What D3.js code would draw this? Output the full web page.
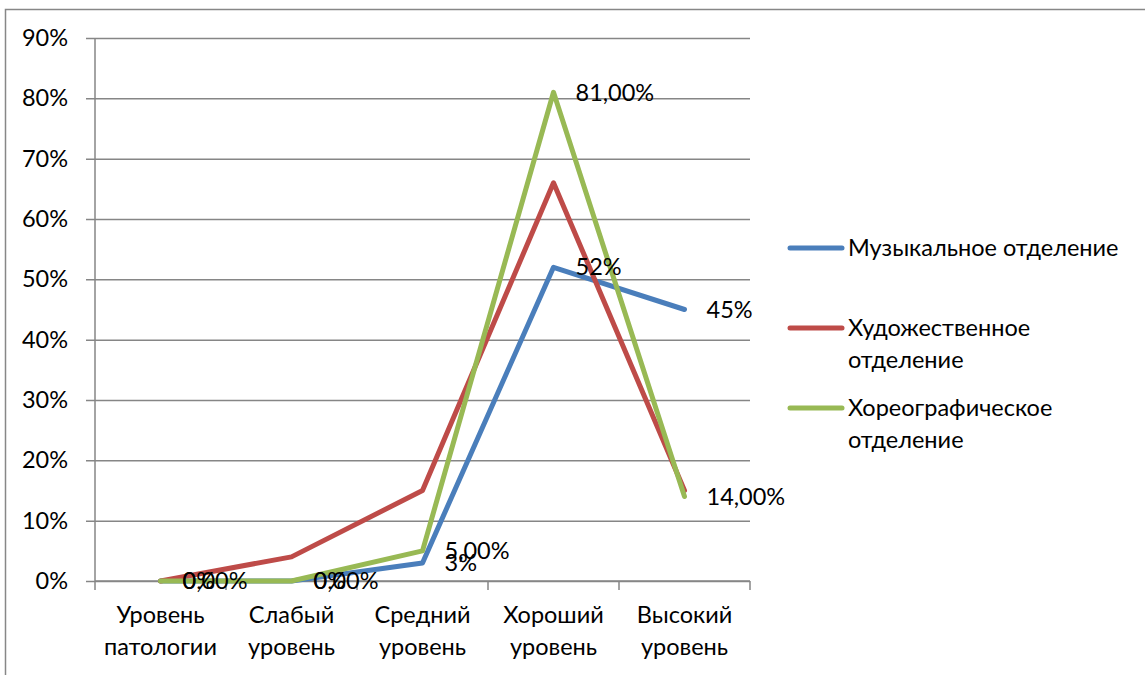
<!DOCTYPE html>
<html>
<head>
<meta charset="utf-8">
<script src="https://cdn.jsdelivr.net/npm/d3@7"></script>
<style>
  body { margin: 0; background: #fff; }
  svg text { font-family: Lato, "Open Sans", sans-serif; fill: #000; }
</style>
</head>
<body>
<svg id="chart" width="1145" height="675"></svg>
<script>
/* Line chart: levels by department */

const categories = [
    ['Уровень', 'патологии'],
    ['Слабый', 'уровень'],
    ['Средний', 'уровень'],
    ['Хороший', 'уровень'],
    ['Высокий', 'уровень']
];
const yTicks = [0, 10, 20, 30, 40, 50, 60, 70, 80, 90];

const musicValues = [0, 0, 3, 52, 45];
const artValues = [0, 4, 15, 66, 15];
const danceValues = [0, 0, 5, 81, 14];

const musicLabels = ['0%', '0%', '3%', '52%', '45%'];
const danceLabels = ['0,00%', '0,00%', '5,00%', '81,00%', '14,00%'];

const seriesNames = [
    ['Музыкальное отделение'],
    ['Художественное', 'отделение'],
    ['Хореографическое', 'отделение']
];

const COLORS = ['#4a7ebb', '#be4b48', '#98b954'];
const FONT_SIZE = 23.5;

const series = [
    { values: musicValues, labels: musicLabels },
    { values: artValues, labels: null },
    { values: danceValues, labels: danceLabels }
];

const svg = d3.select('#chart');

// outer frame (only top and left edges are inside the picture)
svg.append('rect')
    .attr('x', 5.5).attr('y', 9.5)
    .attr('width', 1200).attr('height', 700)
    .attr('fill', 'none')
    .attr('stroke', '#878787')
    .attr('stroke-width', 1.5);

const plot = { left: 95, right: 750, top: 38, bottom: 581 };

const x = d3.scaleBand()
    .domain(d3.range(categories.length))
    .range([plot.left, plot.right]);

const y = d3.scaleLinear()
    .domain([0, 90])
    .range([plot.bottom, plot.top]);

// gridlines + y axis
const yAxis = d3.axisLeft(y)
    .tickValues(yTicks)
    .tickSize(-(plot.right - plot.left))
    .tickPadding(18)
    .tickFormat(d => d + '%');

const gy = svg.append('g')
    .attr('transform', `translate(${plot.left},0)`)
    .call(yAxis);
gy.select('.domain').remove();
gy.selectAll('.tick line')
    .attr('x1', -9)
    .attr('stroke', '#868686')
    .attr('stroke-width', 1.5);
gy.selectAll('.tick text')
    .attr('x', -27)
    .attr('font-size', FONT_SIZE)
    .attr('font-family', 'Lato, sans-serif')
    .attr('fill', '#000');

// vertical axis line
svg.append('line')
    .attr('x1', plot.left).attr('x2', plot.left)
    .attr('y1', plot.top).attr('y2', plot.bottom)
    .attr('stroke', '#868686')
    .attr('stroke-width', 1.5);

// category axis
const gx = svg.append('g')
    .attr('transform', `translate(0,${plot.bottom})`);
gx.append('line')
    .attr('x1', plot.left).attr('x2', plot.right)
    .attr('stroke', '#868686')
    .attr('stroke-width', 1.5);
gx.selectAll('.cat-tick')
    .data(d3.range(categories.length + 1))
    .enter()
    .append('line')
    .attr('x1', i => plot.left + i * x.bandwidth())
    .attr('x2', i => plot.left + i * x.bandwidth())
    .attr('y1', 0).attr('y2', 9)
    .attr('stroke', '#868686')
    .attr('stroke-width', 1.5);

gx.selectAll('.cat-label')
    .data(categories)
    .enter()
    .append('text')
    .attr('text-anchor', 'middle')
    .attr('font-size', FONT_SIZE)
    .each(function(d, i) {
        const t = d3.select(this);
        d.forEach((line, j) => {
            t.append('tspan')
                .attr('x', x(i) + x.bandwidth() / 2)
                .attr('y', 42 + j * 32)
                .text(line);
        });
    });

// lines
const line = d3.line()
    .x((d, i) => x(i) + x.bandwidth() / 2)
    .y(d => y(d));

series.forEach((s, si) => {
    svg.append('path')
        .datum(s.values)
        .attr('d', line)
        .attr('fill', 'none')
        .attr('stroke', COLORS[si])
        .attr('stroke-width', 5)
        .attr('stroke-linejoin', 'round')
        .attr('stroke-linecap', 'round');
});

// data labels (right of point)
series.forEach(s => {
    if (!s.labels) return;
    svg.append('g').selectAll('text')
        .data(s.values)
        .enter()
        .append('text')
        .attr('x', (d, i) => x(i) + x.bandwidth() / 2 + 22)
        .attr('y', d => y(d))
        .attr('dy', '0.35em')
        .attr('font-size', FONT_SIZE)
        .text((d, i) => s.labels[i]);
});

// legend
const legendY = [248, 328, 408];
const legend = svg.append('g');
seriesNames.forEach((name, i) => {
    legend.append('line')
        .attr('x1', 790).attr('x2', 842)
        .attr('y1', legendY[i]).attr('y2', legendY[i])
        .attr('stroke', COLORS[i])
        .attr('stroke-width', 5)
        .attr('stroke-linecap', 'round');
    const t = legend.append('text')
        .attr('font-size', FONT_SIZE);
    name.forEach((ln, j) => {
        t.append('tspan')
            .attr('x', 848)
            .attr('y', legendY[i] + j * 32)
            .attr('dy', '0.35em')
            .text(ln);
    });
});
</script>
</body>
</html>
